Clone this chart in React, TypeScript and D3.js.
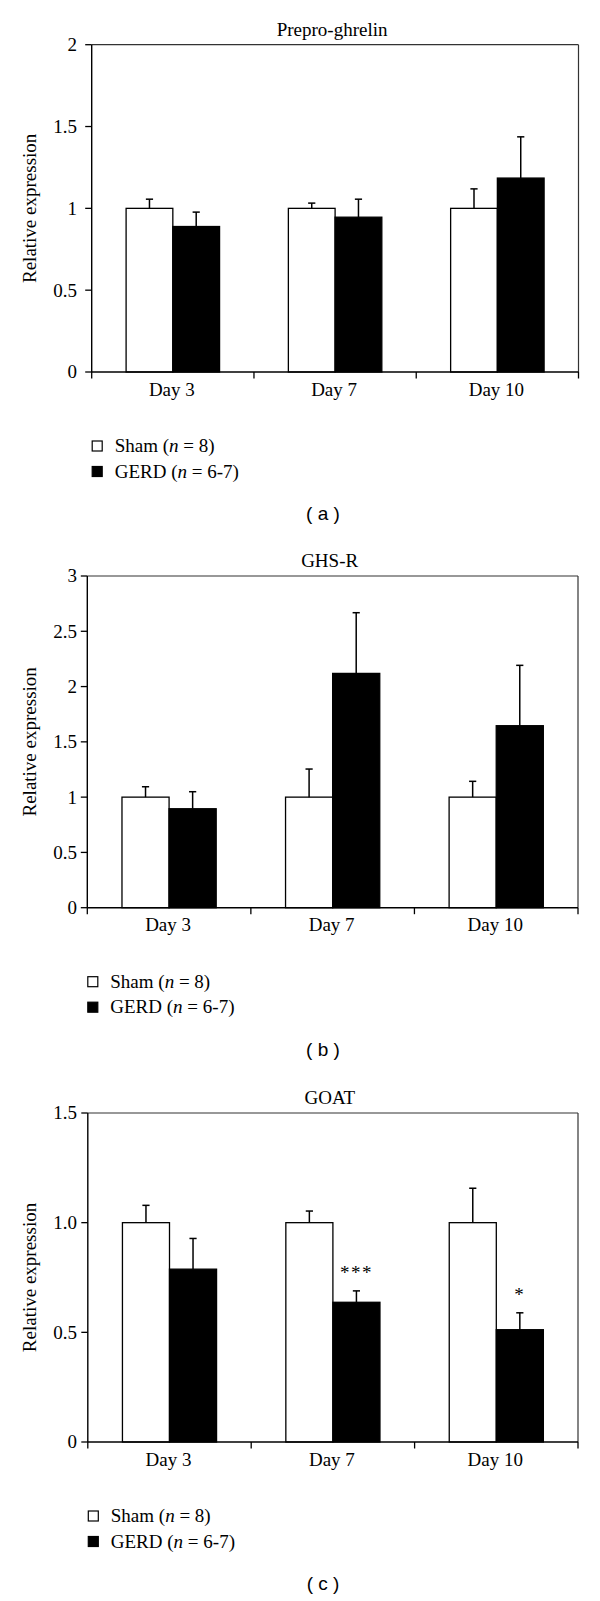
import React from 'react';
import * as d3 from 'd3';

const categories = ['Day 3', 'Day 7', 'Day 10'];
const seriesNames = ['Sham', 'GERD'];

const preproSham = [1, 1, 1];
const preproShamErr = [0.056, 0.032, 0.119];
const preproGerd = [0.889, 0.946, 1.185];
const preproGerdErr = [0.088, 0.11, 0.252];
const preproTicks = [0, 0.5, 1, 1.5, 2];
const preproTickLabels = ['0', '0.5', '1', '1.5', '2'];

const ghsrSham = [1, 1, 1];
const ghsrShamErr = [0.094, 0.254, 0.143];
const ghsrGerd = [0.895, 2.119, 1.646];
const ghsrGerdErr = [0.154, 0.549, 0.546];
const ghsrTicks = [0, 0.5, 1, 1.5, 2, 2.5, 3];
const ghsrTickLabels = ['0', '0.5', '1', '1.5', '2', '2.5', '3'];

const goatSham = [1, 1, 1];
const goatShamErr = [0.079, 0.053, 0.157];
const goatGerd = [0.788, 0.637, 0.512];
const goatGerdErr = [0.14, 0.052, 0.077];
const goatTicks = [0, 0.5, 1, 1.5];
const goatTickLabels = ['0', '0.5', '1.0', '1.5'];
const goatSignif = ['', '***', '*'];

const legendPrefix = ['Sham (', 'GERD ('];
const legendSuffix = [' = 8)', ' = 6-7)'];

const SERIF = '"Liberation Serif", "Times New Roman", serif';
const SANS = '"Liberation Sans", Arial, sans-serif';
const FS = 19;

type PanelProps = {
  title: string;
  letter: string;
  left: number;
  right: number;
  yTop: number;
  y0: number;
  ticks: number[];
  tickLabels: string[];
  sham: number[];
  shamErr: number[];
  gerd: number[];
  gerdErr: number[];
  signif?: string[];
};

function Panel(p: PanelProps) {
  const domainMax = p.ticks[p.ticks.length - 1];
  const y = d3.scaleLinear().domain([0, domainMax]).range([p.y0, p.yTop]);
  const x = d3.scaleBand<string>().domain(categories).range([p.left, p.right]).padding(0);
  const bw = x.bandwidth();
  const x1 = d3
    .scaleBand<string>()
    .domain(seriesNames)
    .range([bw * 0.212, bw * 0.788])
    .padding(0);
  const barW = x1.bandwidth();
  const series = [
    { name: 'Sham', vals: p.sham, errs: p.shamErr, fill: '#ffffff' },
    { name: 'GERD', vals: p.gerd, errs: p.gerdErr, fill: '#000000' },
  ];
  const boundaries = [...categories.map((c) => x(c) as number), p.right];
  const capHalf = 3.6;
  const legendTop = p.y0 + 69;
  const letterY = p.y0 + 148;
  return (
    <g>
      <text
        x={(p.left + p.right) / 2 - 3}
        y={p.yTop - 9}
        textAnchor="middle"
        fontFamily={SERIF}
        fontSize={FS}
      >
        {p.title}
      </text>
      {/* frame top and right */}
      <line x1={p.left} x2={p.right} y1={p.yTop} y2={p.yTop} stroke="#333" strokeWidth={1.2} />
      <line x1={p.right} x2={p.right} y1={p.yTop} y2={p.y0} stroke="#333" strokeWidth={1.2} />
      {/* bars */}
      {series.map((s) =>
        categories.map((c, i) => (
          <rect
            key={s.name + c}
            x={(x(c) as number) + (x1(s.name) as number)}
            y={y(s.vals[i])}
            width={barW}
            height={p.y0 - y(s.vals[i])}
            fill={s.fill}
            stroke="#000"
            strokeWidth={1.3}
          />
        ))
      )}
      {/* error bars */}
      {series.map((s) =>
        categories.map((c, i) => {
          const cx = (x(c) as number) + (x1(s.name) as number) + barW / 2;
          const yt = y(s.vals[i] + s.errs[i]);
          return (
            <g key={'e' + s.name + c}>
              <line x1={cx} x2={cx} y1={y(s.vals[i])} y2={yt} stroke="#000" strokeWidth={1.5} />
              <line x1={cx - capHalf} x2={cx + capHalf} y1={yt} y2={yt} stroke="#000" strokeWidth={1.5} />
            </g>
          );
        })
      )}
      {/* significance */}
      {p.signif &&
        categories.map((c, i) => {
          if (!p.signif || !p.signif[i]) return null;
          const cx = (x(c) as number) + (x1('GERD') as number) + barW / 2;
          const yt = y(p.gerd[i] + p.gerdErr[i]);
          return (
            <text
              key={'s' + c}
              x={cx}
              y={yt - 12}
              textAnchor="middle"
              fontFamily={SERIF}
              fontSize={FS}
              letterSpacing={1.5}
            >
              {p.signif[i]}
            </text>
          );
        })}
      {/* y axis */}
      <line x1={p.left} x2={p.left} y1={p.yTop} y2={p.y0} stroke="#000" strokeWidth={1.4} />
      {p.ticks.map((t, i) => (
        <g key={'yt' + t}>
          <line x1={p.left - 6.5} x2={p.left} y1={y(t)} y2={y(t)} stroke="#000" strokeWidth={1.3} />
          <text
            x={77}
            y={y(t)}
            dy="0.34em"
            textAnchor="end"
            fontFamily={SERIF}
            fontSize={FS}
          >
            {p.tickLabels[i]}
          </text>
        </g>
      ))}
      <text
        transform={`translate(36,${(p.yTop + p.y0) / 2}) rotate(-90)`}
        textAnchor="middle"
        fontFamily={SERIF}
        fontSize={FS}
      >
        Relative expression
      </text>
      {/* x axis */}
      <line x1={p.left} x2={p.right} y1={p.y0} y2={p.y0} stroke="#000" strokeWidth={1.4} />
      {boundaries.map((b, i) => (
        <line key={'xt' + i} x1={b} x2={b} y1={p.y0} y2={p.y0 + 6.5} stroke="#000" strokeWidth={1.3} />
      ))}
      {categories.map((c) => (
        <text
          key={'xl' + c}
          x={(x(c) as number) + bw / 2 - 1}
          y={p.y0 + 23.5}
          textAnchor="middle"
          fontFamily={SERIF}
          fontSize={FS}
        >
          {c}
        </text>
      ))}
      {/* legend */}
      {seriesNames.map((s, i) => (
        <g key={'lg' + s}>
          <rect
            x={p.left + 0.5}
            y={legendTop + i * 25.5}
            width={10}
            height={10}
            fill={i === 0 ? '#fff' : '#000'}
            stroke="#000"
            strokeWidth={1.2}
          />
          <text x={p.left + 23} y={legendTop + i * 25.5 + 11} fontFamily={SERIF} fontSize={FS}>
            {legendPrefix[i]}
            <tspan fontStyle="italic">n</tspan>
            {legendSuffix[i]}
          </text>
        </g>
      ))}
      <text
        x={323}
        y={letterY}
        textAnchor="middle"
        fontFamily={SANS}
        fontSize={19}
        xmlSpace="preserve"
      >
        {`( ${p.letter} )`}
      </text>
    </g>
  );
}

export default function App() {
  return (
    <svg
      width={600}
      height={1601}
      style={{ position: 'absolute', left: 0, top: 0, background: '#fff' }}
    >
      <rect x={0} y={0} width={600} height={1601} fill="#fff" />
      <Panel
        title="Prepro-ghrelin"
        letter="a"
        left={91.7}
        right={578.5}
        yTop={44.7}
        y0={372}
        ticks={preproTicks}
        tickLabels={preproTickLabels}
        sham={preproSham}
        shamErr={preproShamErr}
        gerd={preproGerd}
        gerdErr={preproGerdErr}
      />
      <Panel
        title="GHS-R"
        letter="b"
        left={87.3}
        right={578}
        yTop={576}
        y0={907.7}
        ticks={ghsrTicks}
        tickLabels={ghsrTickLabels}
        sham={ghsrSham}
        shamErr={ghsrShamErr}
        gerd={ghsrGerd}
        gerdErr={ghsrGerdErr}
      />
      <Panel
        title="GOAT"
        letter="c"
        left={87.8}
        right={578}
        yTop={1113}
        y0={1442}
        ticks={goatTicks}
        tickLabels={goatTickLabels}
        sham={goatSham}
        shamErr={goatShamErr}
        gerd={goatGerd}
        gerdErr={goatGerdErr}
        signif={goatSignif}
      />
    </svg>
  );
}
